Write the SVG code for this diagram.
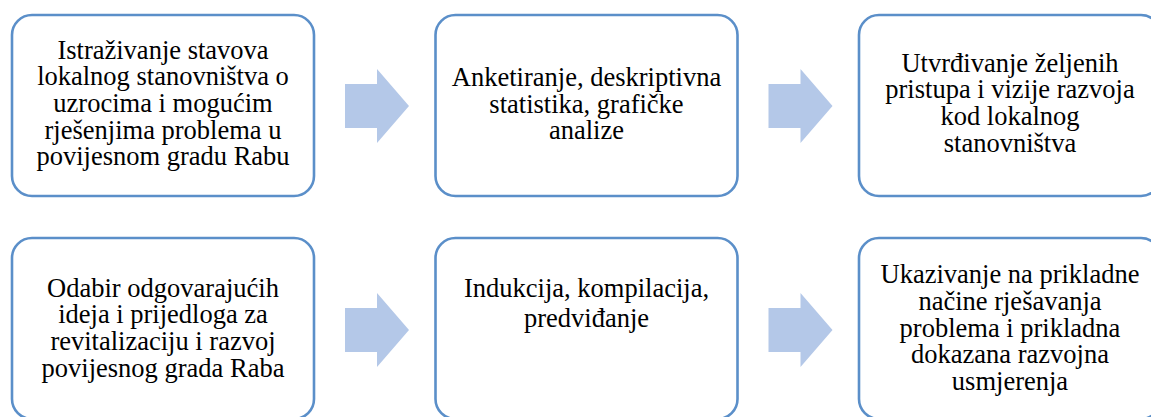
<svg xmlns="http://www.w3.org/2000/svg" width="1151" height="417" viewBox="0 0 1151 417">
<style>
.box{fill:#fff;stroke:#5B8FC9;stroke-width:2.6}
.arr{fill:#B4C8E8}
text{font-family:"Times New Roman","Liberation Serif",Tinos,"DejaVu Serif",serif;font-size:26.5px;fill:#000;text-anchor:middle}
</style>
<rect width="1151" height="417" fill="#fff"/>
<g id="connectors">
<polygon class="arr" points="345,84 377,84 377,69 409,106 377,143 377,128 345,128"/>
<polygon class="arr" points="768.5,84 800.5,84 800.5,69 832.5,106 800.5,143 800.5,128 768.5,128"/>
<polygon class="arr" points="345,308 377,308 377,293 409,330 377,367 377,352 345,352"/>
<polygon class="arr" points="768.5,308 800.5,308 800.5,293 832.5,330 800.5,367 800.5,352 768.5,352"/>
</g>
<g id="n1">
<rect class="box" x="12" y="15" width="302" height="181" rx="20"/>
<text><tspan x="163" y="58.5">Istraživanje stavova</tspan><tspan x="163" y="85.2">lokalnog stanovništva o</tspan><tspan x="163" y="111.9">uzrocima i mogućim</tspan><tspan x="163" y="138.6">rješenjima problema u</tspan><tspan x="163" y="165.3">povijesnom gradu Rabu</tspan></text>
</g>
<g id="n2">
<rect class="box" x="435.5" y="15" width="302" height="181" rx="20"/>
<text><tspan x="586.5" y="86">Anketiranje, deskriptivna</tspan><tspan x="586.5" y="112.7">statistika, grafičke</tspan><tspan x="586.5" y="139.4">analize</tspan></text>
</g>
<g id="n3">
<rect class="box" x="859" y="15" width="302" height="181" rx="20"/>
<text><tspan x="1010" y="71.7">Utvrđivanje željenih</tspan><tspan x="1010" y="98.4">pristupa i vizije razvoja</tspan><tspan x="1010" y="125.1">kod lokalnog</tspan><tspan x="1010" y="151.8">stanovništva</tspan></text>
</g>
<g id="n4">
<rect class="box" x="12" y="238" width="302" height="181" rx="20"/>
<text><tspan x="163" y="296.7">Odabir odgovarajućih</tspan><tspan x="163" y="323.4">ideja i prijedloga za</tspan><tspan x="163" y="350.1">revitalizaciju i razvoj</tspan><tspan x="163" y="376.8">povijesnog grada Raba</tspan></text>
</g>
<g id="n5">
<rect class="box" x="435.5" y="238" width="302" height="181" rx="20"/>
<text><tspan x="586.5" y="296.7">Indukcija, kompilacija,</tspan><tspan x="586.5" y="326.7">predviđanje</tspan></text>
</g>
<g id="n6">
<rect class="box" x="859" y="238" width="302" height="181" rx="20"/>
<text><tspan x="1010" y="283.3">Ukazivanje na prikladne</tspan><tspan x="1010" y="310">načine rješavanja</tspan><tspan x="1010" y="336.7">problema i prikladna</tspan><tspan x="1010" y="363.4">dokazana razvojna</tspan><tspan x="1010" y="390.1">usmjerenja</tspan></text>
</g>
</svg>
